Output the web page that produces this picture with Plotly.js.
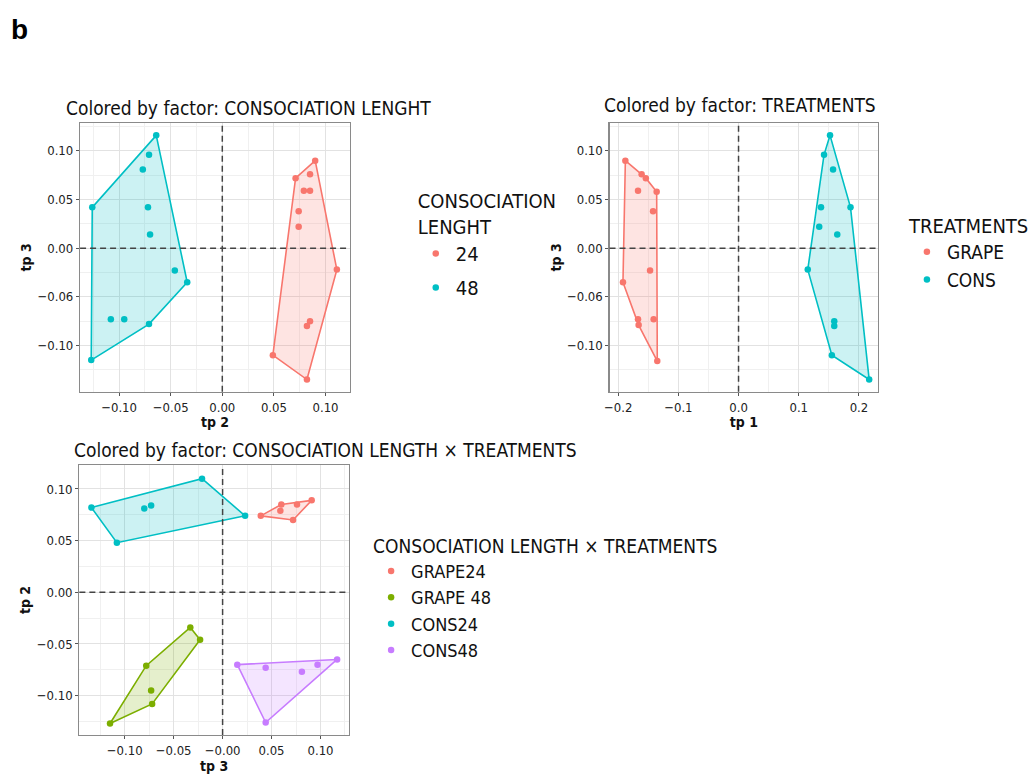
<!DOCTYPE html>
<html>
<head>
<meta charset="utf-8">
<script src="https://cdn.plot.ly/plotly-3.0.1.min.js"></script>
<style>html,body{margin:0;padding:0;background:#fff;}#chart{width:1032px;height:776px;}</style>
</head>
<body>
<div id="chart"></div>
<script>
// ---------- DATA ----------
// Panel 1: tp 2 (x) vs tp 3 (y), colored by consociation length
const p1Groups = ['24', '48'];
const p1_24_tp2 = [0.090, 0.071, 0.085, 0.079, 0.085, 0.074, 0.074, 0.111, 0.085, 0.082, 0.049, 0.082];
const p1_24_tp3 = [0.090, 0.072, 0.076, 0.059, 0.059, 0.038, 0.022, -0.022, -0.075, -0.080, -0.110, -0.135];
const p1_48_tp2 = [-0.064, -0.071, -0.077, -0.126, -0.072, -0.070, -0.046, -0.034, -0.108, -0.095, -0.071, -0.127];
const p1_48_tp3 = [0.116, 0.096, 0.081, 0.042, 0.042, 0.014, -0.023, -0.035, -0.073, -0.073, -0.078, -0.115];

// Panel 2: tp 1 (x) vs tp 3 (y), colored by treatments
const p2Groups = ['GRAPE', 'CONS'];
const p2_grape_tp1 = [-0.188, -0.161, -0.154, -0.167, -0.136, -0.142, -0.147, -0.192, -0.167, -0.166, -0.141, -0.135];
const p2_grape_tp3 = [0.090, 0.076, 0.072, 0.059, 0.058, 0.038, -0.023, -0.035, -0.073, -0.079, -0.073, -0.116];
const p2_cons_tp1 = [0.152, 0.142, 0.157, 0.137, 0.186, 0.134, 0.164, 0.115, 0.159, 0.159, 0.155, 0.217];
const p2_cons_tp3 = [0.116, 0.096, 0.081, 0.042, 0.042, 0.022, 0.014, -0.022, -0.075, -0.080, -0.110, -0.135];

// Panel 3: tp 3 (x) vs tp 2 (y), colored by consociation length x treatments
const p3Groups = ['GRAPE24', 'GRAPE 48', 'CONS24', 'CONS48'];
const p3_grape24_tp3 = [0.039, 0.060, 0.059, 0.076, 0.091, 0.072];
const p3_grape24_tp2 = [0.074, 0.085, 0.079, 0.085, 0.089, 0.070];
const p3_grape48_tp3 = [-0.033, -0.023, -0.078, -0.073, -0.072, -0.115];
const p3_grape48_tp2 = [-0.034, -0.046, -0.071, -0.095, -0.108, -0.127];
const p3_cons24_tp3 = [-0.134, -0.080, -0.073, -0.021, 0.023, -0.108];
const p3_cons24_tp2 = [0.082, 0.081, 0.084, 0.110, 0.074, 0.048];
const p3_cons48_tp3 = [0.015, 0.044, 0.081, 0.097, 0.117, 0.044];
const p3_cons48_tp2 = [-0.070, -0.073, -0.077, -0.070, -0.065, -0.126];

// Tick labels (as printed in the figure)
const p1xTickVals = [-0.10, -0.05, 0.00, 0.05, 0.10];
const p1xTickText = ['\u22120.10', '\u22120.05', '0.00', '0.05', '0.10'];
const pyTickVals = [-0.10, -0.05, 0.00, 0.05, 0.10];
const pyTickText = ['\u22120.10', '\u22120.06', '0.00', '0.05', '0.10'];
const p2xTickVals = [-0.2, -0.1, 0.0, 0.1, 0.2];
const p2xTickText = ['\u22120.2', '\u22120.1', '0.0', '0.1', '0.2'];
const p3xTickVals = [-0.10, -0.05, 0.00, 0.05, 0.10];
const p3xTickText = ['\u22120.10', '\u22120.05', '\u22120.00', '0.05', '0.10'];
const p3yTickVals = [-0.10, -0.05, 0.00, 0.05, 0.10];
const p3yTickText = ['\u22120.10', '\u22120.05', '0.00', '0.05', '0.10'];

// ---------- STYLE ----------
const FONT = "'Liberation Sans Narrow', 'DejaVu Sans Condensed', 'Arial Narrow', sans-serif";
const C_RED = '#F8766D', C_GREEN = '#7CAE00', C_CYAN = '#00BFC4', C_PURPLE = '#C77CFF';
function rgba(hex, a) {
  const r = parseInt(hex.slice(1, 3), 16), g = parseInt(hex.slice(3, 5), 16), b = parseInt(hex.slice(5, 7), 16);
  return `rgba(${r},${g},${b},${a})`;
}

// convex hull (monotone chain), returns closed polygon
function hull(xs, ys) {
  const pts = xs.map((x, i) => [x, ys[i]]).sort((a, b) => a[0] - b[0] || a[1] - b[1]);
  const cross = (o, a, b) => (a[0] - o[0]) * (b[1] - o[1]) - (a[1] - o[1]) * (b[0] - o[0]);
  const lower = [], upper = [];
  for (const p of pts) { while (lower.length >= 2 && cross(lower[lower.length - 2], lower[lower.length - 1], p) <= 0) lower.pop(); lower.push(p); }
  for (let i = pts.length - 1; i >= 0; i--) { const p = pts[i]; while (upper.length >= 2 && cross(upper[upper.length - 2], upper[upper.length - 1], p) <= 0) upper.pop(); upper.push(p); }
  upper.pop(); lower.pop();
  const h = lower.concat(upper); h.push(h[0]);
  return { x: h.map(p => p[0]), y: h.map(p => p[1]) };
}

const traces = [];
function addGroup(xs, ys, name, color, xa, ya, legend, order) {
  const h = hull(xs, ys);
  traces.push({ x: h.x, y: h.y, xaxis: xa, yaxis: ya, mode: 'lines', fill: 'toself',
    fillcolor: rgba(color, 0.2), line: { color: color, width: 1.6 }, showlegend: false, hoverinfo: 'skip' });
  traces.push({ x: xs, y: ys, xaxis: xa, yaxis: ya, mode: 'markers', name: name, legend: legend,
    legendgroup: legend + name, legendrank: order,
    marker: { color: color, size: 6.5 } });
}
addGroup(p1_24_tp2, p1_24_tp3, p1Groups[0], C_RED, 'x', 'y', 'legend', 1);
addGroup(p1_48_tp2, p1_48_tp3, p1Groups[1], C_CYAN, 'x', 'y', 'legend', 2);
addGroup(p2_grape_tp1, p2_grape_tp3, p2Groups[0], C_RED, 'x2', 'y2', 'legend2', 1);
addGroup(p2_cons_tp1, p2_cons_tp3, p2Groups[1], C_CYAN, 'x2', 'y2', 'legend2', 2);
addGroup(p3_grape24_tp3, p3_grape24_tp2, p3Groups[0], C_RED, 'x3', 'y3', 'legend3', 1);
addGroup(p3_grape48_tp3, p3_grape48_tp2, p3Groups[1], C_GREEN, 'x3', 'y3', 'legend3', 2);
addGroup(p3_cons24_tp3, p3_cons24_tp2, p3Groups[2], C_CYAN, 'x3', 'y3', 'legend3', 3);
addGroup(p3_cons48_tp3, p3_cons48_tp2, p3Groups[3], C_PURPLE, 'x3', 'y3', 'legend3', 4);

const W = 1032, H = 776;
function axis(o) {
  return Object.assign({
    showline: true, mirror: true, linecolor: '#8a8a8a', linewidth: 1.2,
    showgrid: true, gridcolor: '#e2e2e2', gridwidth: 1, zeroline: false,
    ticks: 'outside', ticklen: 3, tickcolor: '#555', tickwidth: 1,
    tickfont: { family: FONT, size: 13, color: '#222' }, tickmode: 'array',
    automargin: false,
  }, o);
}
function minor(d) { return { tickmode: 'linear', tick0: 0, dtick: d, showgrid: true, gridcolor: '#f0f0f0', gridwidth: 1, ticks: '' }; }
const axTitleFont = { family: FONT, size: 14, color: '#111', weight: 'bold' };

const layout = {
  width: W, height: H, margin: { l: 0, r: 0, t: 0, b: 0 },
  paper_bgcolor: '#fff', plot_bgcolor: '#fff', showlegend: true,
  font: { family: FONT, color: '#111' },
  xaxis: axis({ domain: [80.7 / W, 352.7 / W], range: [-0.1378, 0.1237], tickvals: p1xTickVals, ticktext: p1xTickText,
    minor: minor(0.025), title: { text: 'tp 2', font: axTitleFont, standoff: 0 }, anchor: 'y' }),
  yaxis: axis({ domain: [1 - 391.7 / H, 1 - 123 / H], range: [-0.1475, 0.1287], tickvals: pyTickVals, ticktext: pyTickText,
    minor: minor(0.025), title: { text: 'tp 3', font: axTitleFont, standoff: 2 }, anchor: 'x' }),
  xaxis2: axis({ domain: [614.3 / W, 885 / W], range: [-0.2143, 0.2319], tickvals: p2xTickVals, ticktext: p2xTickText,
    minor: minor(0.05), title: { text: 'tp 1', font: axTitleFont, standoff: 2 }, anchor: 'y2' }),
  yaxis2: axis({ domain: [1 - 391.7 / H, 1 - 123 / H], range: [-0.1475, 0.1287], tickvals: pyTickVals, ticktext: pyTickText,
    minor: minor(0.025), title: { text: 'tp 3', font: axTitleFont, standoff: 2 }, anchor: 'x2' }),
  xaxis3: axis({ domain: [80 / W, 351.7 / W], range: [-0.1463, 0.1291], tickvals: p3xTickVals, ticktext: p3xTickText,
    minor: minor(0.025), title: { text: 'tp 3', font: axTitleFont, standoff: 2 }, anchor: 'y3' }),
  yaxis3: axis({ domain: [1 - 735 / H, 1 - 465 / H], range: [-0.1381, 0.1232], tickvals: p3yTickVals, ticktext: p3yTickText,
    minor: minor(0.025), title: { text: 'tp 2', font: axTitleFont, standoff: 2 }, anchor: 'x3' }),
  shapes: [],
  annotations: [
    { text: '<b>b</b>', x: 9 / W, y: 1 - 12 / H, xref: 'paper', yref: 'paper', xanchor: 'left', yanchor: 'top', showarrow: false,
      font: { family: 'Liberation Sans, Arial, sans-serif', size: 28, color: '#000' } },
    { text: 'Colored by factor: CONSOCIATION LENGHT', x: 65 / W, y: 1 - 108 / H, xref: 'paper', yref: 'paper', xanchor: 'left', yanchor: 'middle', showarrow: false,
      font: { family: FONT, size: 19, color: '#111' } },
    { text: 'Colored by factor: TREATMENTS', x: 607 / W, y: 1 - 105 / H, xref: 'paper', yref: 'paper', xanchor: 'left', yanchor: 'middle', showarrow: false,
      font: { family: FONT, size: 19, color: '#111' } },
    { text: 'Colored by factor: CONSOCIATION LENGTH \u00d7 TREATMENTS', x: 73 / W, y: 1 - 450 / H, xref: 'paper', yref: 'paper', xanchor: 'left', yanchor: 'middle', showarrow: false,
      font: { family: FONT, size: 19, color: '#111' } },
  ],
  legend: { x: 419 / W, y: 1 - 182 / H, xanchor: 'left', yanchor: 'top', bgcolor: 'rgba(0,0,0,0)',
    title: { text: 'CONSOCIATION<br>LENGHT', font: { family: FONT, size: 20, color: '#111' } },
    font: { family: FONT, size: 20, color: '#111' }, tracegroupgap: 5 },
  legend2: { x: 914 / W, y: 1 - 207 / H, xanchor: 'left', yanchor: 'top', bgcolor: 'rgba(0,0,0,0)',
    title: { text: 'TREATMENTS', font: { family: FONT, size: 20, color: '#111' } },
    font: { family: FONT, size: 19, color: '#111' }, tracegroupgap: 0 },
  legend3: { x: 374 / W, y: 1 - 528 / H, xanchor: 'left', yanchor: 'top', bgcolor: 'rgba(0,0,0,0)',
    title: { text: 'CONSOCIATION LENGTH \u00d7 TREATMENTS', font: { family: FONT, size: 19, color: '#111' } },
    font: { family: FONT, size: 18, color: '#111' }, tracegroupgap: 0 },
};

// dashed zero reference lines
[['x', 'y'], ['x2', 'y2'], ['x3', 'y3']].forEach(([xa, ya]) => {
  layout.shapes.push({ type: 'line', xref: xa, yref: ya + ' domain', x0: 0, x1: 0, y0: 0, y1: 1,
    line: { color: '#444', width: 1.5, dash: '6px,4px' } });
  layout.shapes.push({ type: 'line', xref: xa + ' domain', yref: ya, x0: 0, x1: 1, y0: 0, y1: 0,
    line: { color: '#444', width: 1.5, dash: '6px,4px' } });
});

Plotly.newPlot('chart', traces, layout, { displayModeBar: false, staticPlot: true });
</script>
</body>
</html>
